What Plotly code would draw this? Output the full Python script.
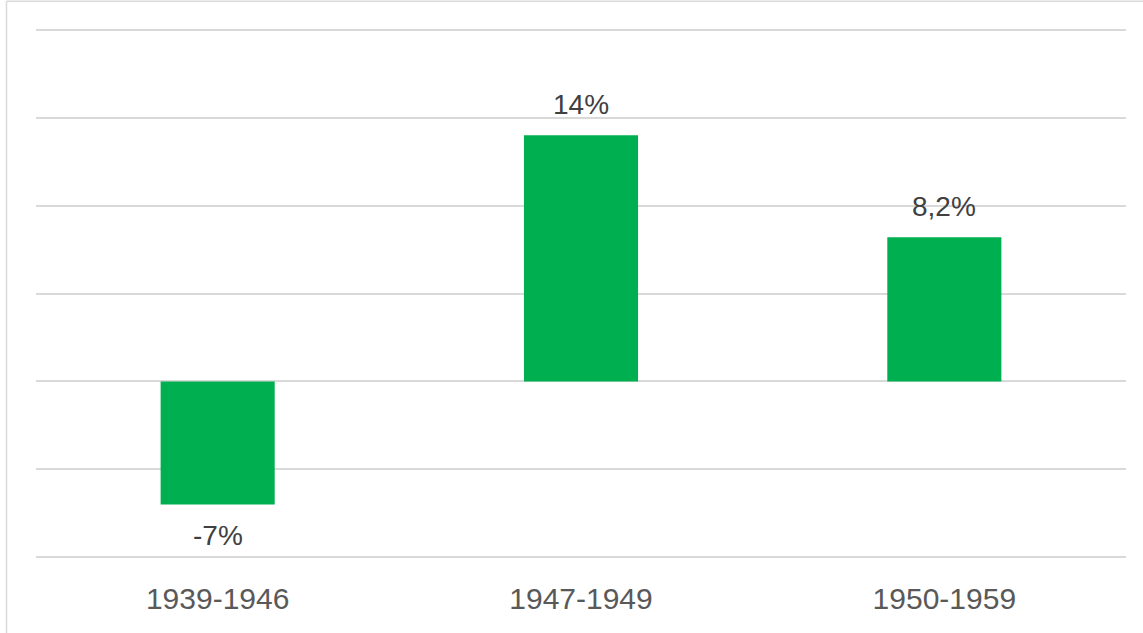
import plotly.graph_objects as go

categories = ["1939-1946", "1947-1949", "1950-1959"]
values = [-7, 14, 8.2]
labels = ["-7%", "14%", "8,2%"]

W, H = 1143, 633
ext = 0.1  # small range extension so the edge gridlines are drawn
unit_px = 527 / 30
ml, mr = 36, 17
mt, mb = 30 - ext * unit_px, 76 - ext * unit_px
pw, ph = W - ml - mr, H - mt - mb

fig = go.Figure(go.Bar(
    x=categories, y=values,
    marker=dict(color="#00B050", line=dict(width=0)),
    width=0.314,
    hoverinfo="skip",
))

FONT = "Liberation Sans, Arial, sans-serif"
for c, v, t in zip(categories, values, labels):
    fig.add_annotation(
        x=c, y=v, text=t, showarrow=False,
        yanchor="bottom" if v >= 0 else "top",
        yshift=13 if v >= 0 else -14,
        font=dict(family=FONT, size=28, color="#404040"),
    )

def px_x(p):
    return (p - ml) / pw
def px_y(p):
    return 1 - (p - mt) / ph

fig.add_shape(type="line", xref="paper", yref="paper",
              x0=px_x(6.5), x1=px_x(1143), y0=px_y(1.5), y1=px_y(1.5),
              line=dict(color="#D9D9D9", width=1.5))
fig.add_shape(type="line", xref="paper", yref="paper",
              x0=px_x(6.5), x1=px_x(6.5), y0=px_y(1.5), y1=px_y(633),
              line=dict(color="#D9D9D9", width=1.5))

fig.update_layout(
    width=W, height=H,
    margin=dict(l=ml, r=mr, t=mt, b=mb, autoexpand=False),
    paper_bgcolor="white", plot_bgcolor="white",
    showlegend=False,
    xaxis=dict(
        showgrid=False, zeroline=False, showline=False, automargin=False,
        ticks="", ticklabelstandoff=19,
        tickfont=dict(family=FONT, size=30, color="#595959"),
    ),
    yaxis=dict(
        range=[-10 - ext, 20 + ext], dtick=5, tick0=0, automargin=False,
        showgrid=True, gridcolor="#D9D9D9", gridwidth=1.5,
        zeroline=True, zerolinecolor="#D9D9D9", zerolinewidth=1.5,
        showticklabels=False, ticks="", showline=False,
    ),
)

fig.write_html("out.html", config={"displayModeBar": False},
               post_script="document.body.style.margin='0';document.body.style.padding='0';")
